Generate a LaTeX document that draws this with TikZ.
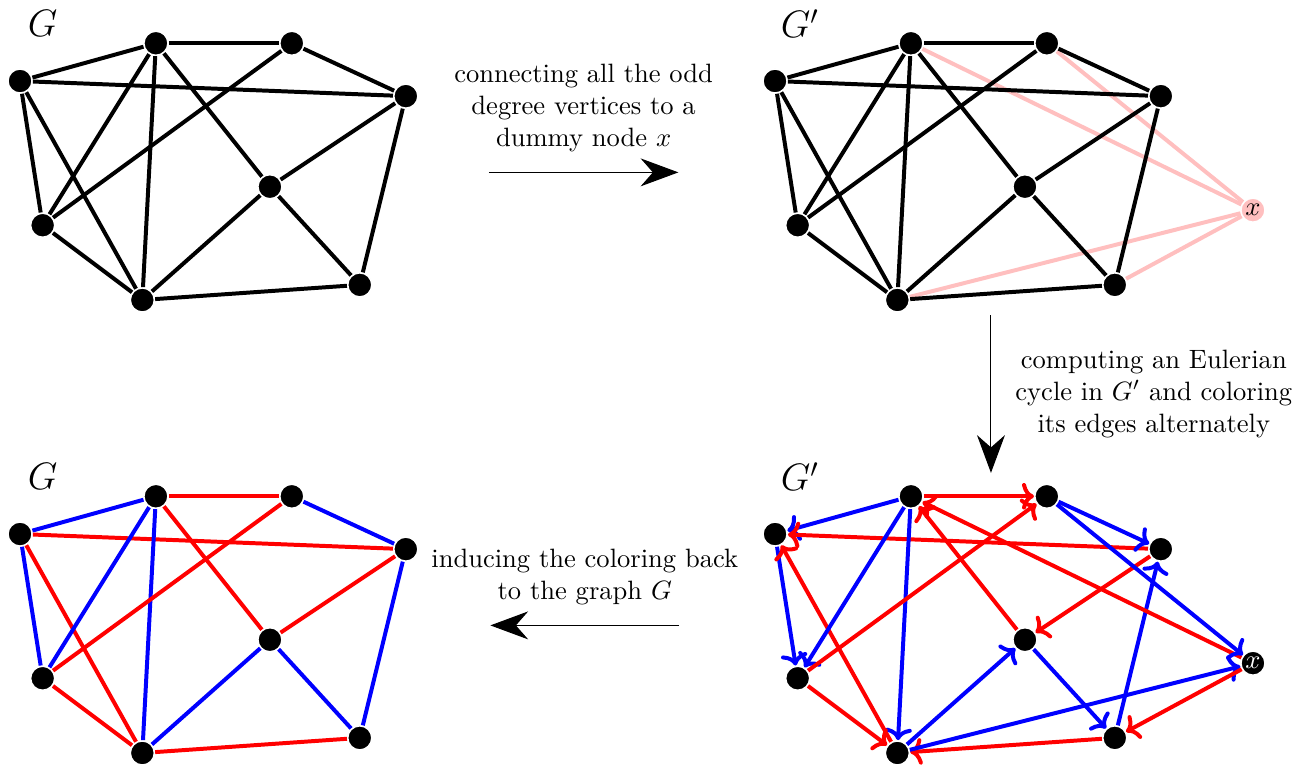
\documentclass[tikz,border=0pt]{standalone}
\usetikzlibrary{positioning,arrows.meta}

\begin{document}
\begin{tikzpicture}[
    vertex/.style={circle,fill=black,draw=white,line width=0.6pt,inner sep=0pt,minimum size=0.32cm},
    dummy/.style={circle,fill=red!25,draw=white,line width=0.6pt,inner sep=0pt,minimum size=0.32cm},
    dummydark/.style={circle,fill=black,text=white,draw=white,line width=0.6pt,inner sep=0pt,minimum size=0.32cm},
    gedge/.style={line width=1.5pt,black},
    newedge/.style={line width=1.5pt,red!25},
    rededge/.style={line width=1.5pt,red},
    blueedge/.style={line width=1.5pt,blue},
    redarc/.style={rededge,-{Computer Modern Rightarrow[length=4.5pt,width=10pt]}},
    bluearc/.style={blueedge,-{Computer Modern Rightarrow[length=4.5pt,width=10pt]}},
    arrow/.style={-{Stealth[length=5mm,width=3.7mm]},thin},
    title/.style={font=\Large}
]

\useasboundingbox (-0.265,1.073) rectangle (16.94,-9.113);

% Graph G
\begin{scope}
\node[title] (g-title) at (0.3,0.76) {$G$};
\node[vertex] (g-a) at (0,0) {};
\node[vertex] (g-b) at (1.80,0.50) {};
\node[vertex] (g-c) at (3.60,0.50) {};
\node[vertex] (g-d) at (5.11,-0.20) {};
\node[vertex] (g-e) at (3.31,-1.40) {};
\node[vertex] (g-f) at (0.30,-1.91) {};
\node[vertex] (g-g) at (1.62,-2.90) {};
\node[vertex] (g-h) at (4.50,-2.70) {};

\draw[gedge] (g-a) -- (g-b);
\draw[gedge] (g-a) -- (g-d);
\draw[gedge] (g-a) -- (g-f);
\draw[gedge] (g-a) -- (g-g);
\draw[gedge] (g-b) -- (g-c);
\draw[gedge] (g-b) -- (g-f);
\draw[gedge] (g-b) -- (g-g);
\draw[gedge] (g-b) -- (g-e);
\draw[gedge] (g-c) -- (g-f);
\draw[gedge] (g-c) -- (g-d);
\draw[gedge] (g-d) -- (g-e);
\draw[gedge] (g-d) -- (g-h);
\draw[gedge] (g-e) -- (g-g);
\draw[gedge] (g-e) -- (g-h);
\draw[gedge] (g-f) -- (g-g);
\draw[gedge] (g-g) -- (g-h);
\end{scope}

% Graph G' with the dummy node
\begin{scope}[xshift=10cm]
\node[title] (gx-title) at (0.33,0.76) {$G'$};
\node[vertex] (gx-a) at (0,0) {};
\node[vertex] (gx-b) at (1.80,0.50) {};
\node[vertex] (gx-c) at (3.60,0.50) {};
\node[vertex] (gx-d) at (5.11,-0.20) {};
\node[vertex] (gx-e) at (3.31,-1.40) {};
\node[vertex] (gx-f) at (0.30,-1.91) {};
\node[vertex] (gx-g) at (1.62,-2.90) {};
\node[vertex] (gx-h) at (4.50,-2.70) {};
\node[dummy] (gx-x) at (6.33,-1.71) {$x$};

\draw[newedge] (gx-b) -- (gx-x);
\draw[newedge] (gx-c) -- (gx-x);
\draw[newedge] (gx-g) -- (gx-x);
\draw[newedge] (gx-h) -- (gx-x);

\draw[gedge] (gx-a) -- (gx-b);
\draw[gedge] (gx-a) -- (gx-d);
\draw[gedge] (gx-a) -- (gx-f);
\draw[gedge] (gx-a) -- (gx-g);
\draw[gedge] (gx-b) -- (gx-c);
\draw[gedge] (gx-b) -- (gx-f);
\draw[gedge] (gx-b) -- (gx-g);
\draw[gedge] (gx-b) -- (gx-e);
\draw[gedge] (gx-c) -- (gx-f);
\draw[gedge] (gx-c) -- (gx-d);
\draw[gedge] (gx-d) -- (gx-e);
\draw[gedge] (gx-d) -- (gx-h);
\draw[gedge] (gx-e) -- (gx-g);
\draw[gedge] (gx-e) -- (gx-h);
\draw[gedge] (gx-f) -- (gx-g);
\draw[gedge] (gx-g) -- (gx-h);
\end{scope}

% Eulerian cycle in G'
\begin{scope}[xshift=10cm,yshift=-6cm]
\node[title] (eu-title) at (0.33,0.76) {$G'$};
\node[vertex] (eu-a) at (0,0) {};
\node[vertex] (eu-b) at (1.80,0.50) {};
\node[vertex] (eu-c) at (3.60,0.50) {};
\node[vertex] (eu-d) at (5.11,-0.20) {};
\node[vertex] (eu-e) at (3.31,-1.40) {};
\node[vertex] (eu-f) at (0.30,-1.91) {};
\node[vertex] (eu-g) at (1.62,-2.90) {};
\node[vertex] (eu-h) at (4.50,-2.70) {};
\node[dummydark] (eu-x) at (6.33,-1.71) {$x$};

\draw[bluearc] (eu-b) -- (eu-a);
\draw[redarc] (eu-b) -- (eu-c);
\draw[redarc] (eu-d) -- (eu-a);
\draw[bluearc] (eu-a) -- (eu-f);
\draw[redarc] (eu-g) -- (eu-a);
\draw[bluearc] (eu-b) -- (eu-f);
\draw[bluearc] (eu-b) -- (eu-g);
\draw[redarc] (eu-e) -- (eu-b);
\draw[redarc] (eu-f) -- (eu-c);
\draw[bluearc] (eu-c) -- (eu-d);
\draw[redarc] (eu-d) -- (eu-e);
\draw[bluearc] (eu-h) -- (eu-d);
\draw[bluearc] (eu-g) -- (eu-e);
\draw[bluearc] (eu-e) -- (eu-h);
\draw[redarc] (eu-h) -- (eu-g);
\draw[redarc] (eu-f) -- (eu-g);
\draw[redarc] (eu-x) -- (eu-b);
\draw[bluearc] (eu-c) -- (eu-x);
\draw[bluearc] (eu-g) -- (eu-x);
\draw[redarc] (eu-x) -- (eu-h);
\end{scope}

% Coloring induced on G
\begin{scope}[yshift=-6cm]
\node[title] (col-title) at (0.3,0.76) {$G$};
\node[vertex] (col-a) at (0,0) {};
\node[vertex] (col-b) at (1.80,0.50) {};
\node[vertex] (col-c) at (3.60,0.50) {};
\node[vertex] (col-d) at (5.11,-0.20) {};
\node[vertex] (col-e) at (3.31,-1.40) {};
\node[vertex] (col-f) at (0.30,-1.91) {};
\node[vertex] (col-g) at (1.62,-2.90) {};
\node[vertex] (col-h) at (4.50,-2.70) {};

\draw[blueedge] (col-a) -- (col-b);
\draw[rededge] (col-a) -- (col-d);
\draw[blueedge] (col-a) -- (col-f);
\draw[rededge] (col-a) -- (col-g);
\draw[rededge] (col-b) -- (col-c);
\draw[blueedge] (col-b) -- (col-f);
\draw[blueedge] (col-b) -- (col-g);
\draw[rededge] (col-b) -- (col-e);
\draw[rededge] (col-c) -- (col-f);
\draw[blueedge] (col-c) -- (col-d);
\draw[rededge] (col-d) -- (col-e);
\draw[blueedge] (col-d) -- (col-h);
\draw[blueedge] (col-e) -- (col-g);
\draw[blueedge] (col-e) -- (col-h);
\draw[rededge] (col-f) -- (col-g);
\draw[rededge] (col-g) -- (col-h);
\end{scope}

% Steps
\coordinate (add-start) at (6.21,-1.21);
\coordinate (add-end) at (8.72,-1.21);
\draw[arrow] (add-start) -- node[above=0.15cm,align=center] (add-text) {connecting all the odd\\degree vertices to a\\dummy node $x$} (add-end);

\coordinate (euler-start) at (12.86,-3.10);
\coordinate (euler-end) at (12.86,-5.19);
\draw[arrow] (euler-start) -- node[right=0.2cm,align=center] (euler-text) {computing an Eulerian\\cycle in $G'$ and coloring\\its edges alternately} (euler-end);

\coordinate (back-start) at (8.73,-7.21);
\coordinate (back-end) at (6.23,-7.21);
\draw[arrow] (back-start) -- node[above=0.15cm,align=center] (back-text) {inducing the coloring back\\to the graph $G$} (back-end);

\end{tikzpicture}
\end{document}
